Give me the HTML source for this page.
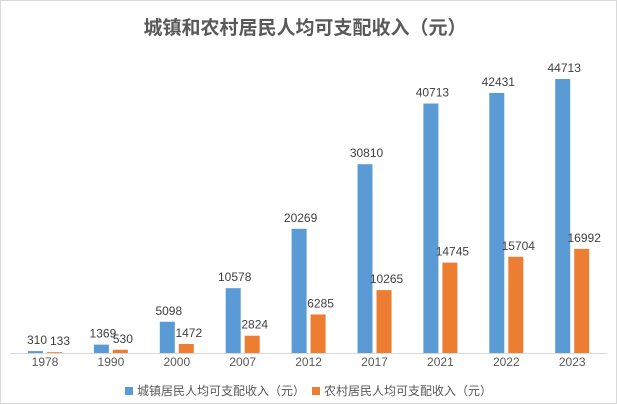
<!DOCTYPE html>
<html><head><meta charset="utf-8"><style>
body{margin:0;background:#fff}
svg{display:block}
text{font-family:"Liberation Sans","Noto Sans CJK SC",sans-serif}
</style></head><body>
<svg width="617" height="404" viewBox="0 0 617 404">
<rect x="0.5" y="0.5" width="616" height="403" fill="#fff" stroke="#d9d9d9"/>
<text x="305" y="34" text-anchor="middle" font-size="19" font-weight="bold" fill="#595959">城镇和农村居民人均可支配收入（元）</text>
<line x1="10" y1="353.5" x2="607" y2="353.5" stroke="#d9d9d9"/>
<g id="bars"></g>
<rect x="125" y="387" width="8" height="8" fill="#5b9bd5"/>
<text x="137" y="395" font-size="12" fill="#595959">城镇居民人均可支配收入（元）</text>
<rect x="312" y="387" width="8" height="8" fill="#ed7d31"/>
<text x="324" y="395" font-size="12" fill="#595959">农村居民人均可支配收入（元）</text>
</svg>
<script>
var yrs=[1978,1990,2000,2007,2012,2017,2021,2022,2023];
var u=[310,1369,5098,10578,20269,30810,40713,42431,44713];
var r=[133,530,1472,2824,6285,10265,14745,15704,16992];
var s=274/44713,B=353,ns="http://www.w3.org/2000/svg",g=document.getElementById("bars");
function el(t,a,txt){var e=document.createElementNS(ns,t);for(var k in a)e.setAttribute(k,a[k]);if(txt!=null)e.textContent=txt;g.appendChild(e);}
for(var i=0;i<9;i++){var c=45+i*65.9;
var hu=u[i]*s,hr=r[i]*s;
el("rect",{x:c-17,y:B-hu,width:15,height:hu,fill:"#5b9bd5"});
el("rect",{x:c+2,y:B-hr,width:15,height:hr,fill:"#ed7d31"});
el("text",{x:c-8,y:B-hu-7,"font-size":12,fill:"#404040","text-anchor":"middle"},u[i]);
el("text",{x:i==0?c+15:c+12,y:B-hr-7,"font-size":12,fill:"#404040","text-anchor":"middle"},r[i]);
el("text",{x:c,y:366,"font-size":12,fill:"#595959","text-anchor":"middle"},yrs[i]);}
</script>
</body></html>
